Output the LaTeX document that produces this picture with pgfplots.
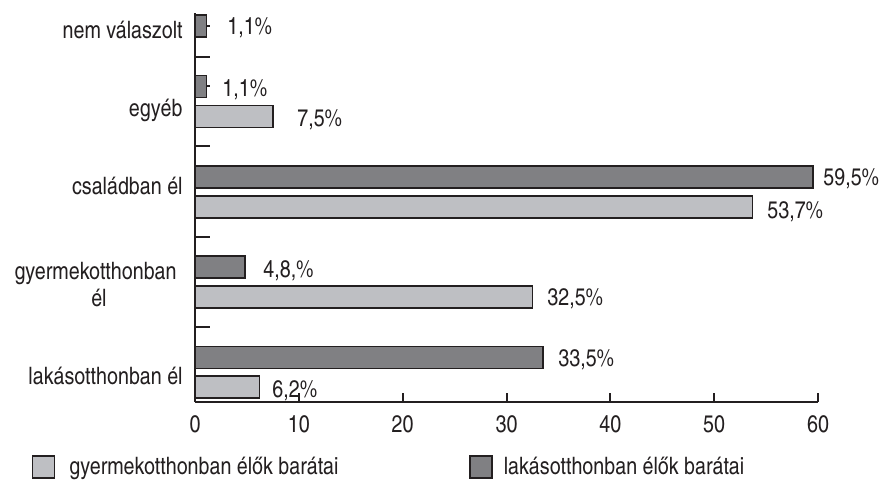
\documentclass[border=0pt]{standalone}
\usepackage{pgfplots}
\pgfplotsset{compat=1.18}
\usepackage{fontspec}
\setmainfont{texgyreheroscn}[Extension=.otf, UprightFont=*-regular, BoldFont=*-bold, ItalicFont=*-italic, BoldItalicFont=*-bolditalic]
\definecolor{darkbar}{RGB}{128,128,131}
\definecolor{lightbar}{RGB}{190,191,195}
\definecolor{ink}{RGB}{35,31,32}
\pgfplotsset{
  sqlegend/.style={legend image code/.code={\draw[##1, line width=0.7pt] (0pt,-5.5pt) rectangle (11pt,5.5pt);}},
}
\begin{document}
\begin{tikzpicture}[font=\fontsize{12}{14}\selectfont]
\begin{axis}[
  scale only axis, width=311.5pt, height=194.5pt,
  xmin=0, xmax=60, ymin=0, ymax=389,
  axis x line*=bottom, axis y line*=left,
  axis line style={line width=1pt, draw=ink, -},
  tick align=inside,
  major tick length=7.5pt,
  tick style={line width=1pt, draw=ink},
  xtick={0,10,...,60},
  major x tick style={draw=none},
  xticklabel style={anchor=north, inner sep=0pt, yshift=-6.5pt, text=ink},
  /pgf/number format/assume math mode=true,
  ytick={75,165,256,345,376,315.5},
  yticklabels={{},{},{},{},{},{}},
  major y tick style={draw=ink, line width=1pt},
  clip=false,
  legend columns=2,
  legend style={at={(axis description cs:-0.2616,-0.1671)}, anchor=west, draw=none, fill=none,
     inner sep=0pt, outer sep=0pt, column sep=0pt, nodes={inner sep=0pt, outer sep=0pt, text=ink}},
]
\addplot[xbar, bar width=22, bar shift=0pt, fill=lightbar, draw=ink, line width=0.7pt, sqlegend]
  coordinates {(6.2,15) (32.5,105) (53.7,195) (7.5,285.5)};
\addplot[xbar, bar width=22, bar shift=0pt, fill=darkbar, draw=ink, line width=0.7pt, sqlegend]
  coordinates {(33.5,44.5) (4.8,135) (59.5,225) (1.1,315.5) (1.1,376)};
% x-axis tick marks (short, pointing up)
\addplot[forget plot, ycomb, mark=none, draw=ink, line width=1pt]
  coordinates {(10,9) (20,9) (30,9) (40,9) (50,9) (60,9)};
% value labels
\addplot[forget plot, only marks, mark=none, nodes near coords, point meta=explicit symbolic,
  nodes near coords style={anchor=base west, inner sep=0pt, text=ink}]
  coordinates {
    (3.08,367) [1,1\%]
    (2.60,305) [1,1\%]
    (9.82,275) [7,5\%]
    (60.48,217) [59,5\%]
    (55.09,184) [53,7\%]
    (6.55,125) [4,8,\%]
    (33.90,97) [32,5\%]
    (34.96,36) [33,5\%]
    (7.42,5) [6,2\%]
  };
% category labels
\addplot[forget plot, only marks, mark=none, nodes near coords, point meta=explicit symbolic,
  nodes near coords style={anchor=base east, inner sep=0pt, text=ink}]
  coordinates {
    (-1.156,363) [nem válaszolt]
    (-1.156,285) [egyéb]
    (-1.156,207) [családban él]
    (-1.734,123) [gyermekotthonban]
    (-8.475,96) [él]
    (-1.156,18) [lakásotthonban él]
  };
\legend{\hspace*{7pt}\makebox[200pt][l]{gyermekotthonban élők barátai}, \hspace*{5.5pt}lakásotthonban élők barátai}
\end{axis}
\pgfresetboundingbox
\path[use as bounding box] ([xshift=-97.5pt,yshift=-40pt]current axis.south west) rectangle ([xshift=343.5pt,yshift=201pt]current axis.south west);
\end{tikzpicture}
\end{document}
